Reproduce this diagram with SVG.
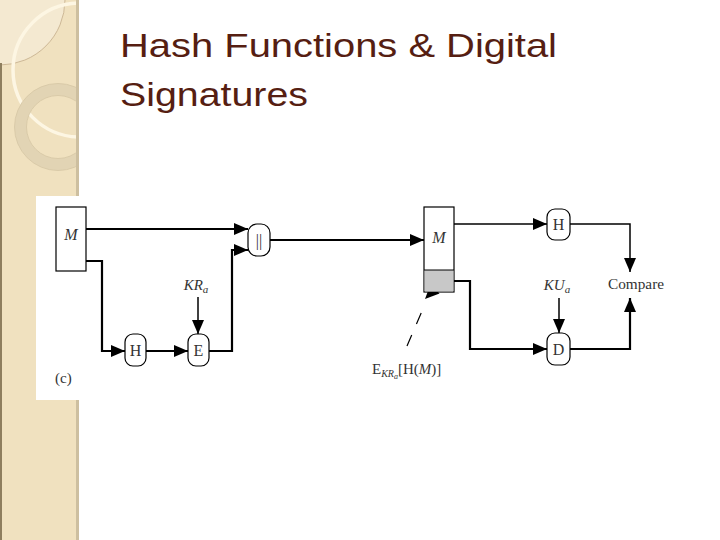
<svg xmlns="http://www.w3.org/2000/svg" width="720" height="540" viewBox="0 0 720 540">
<style>
.ln{fill:none;stroke:#000;stroke-width:2.2}
.thin{fill:none;stroke:#000;stroke-width:1.5}
.nd{fill:#fff;stroke:#000;stroke-width:1.2}
.box{fill:#fff;stroke:#000;stroke-width:1.2}
.t{font-family:"Liberation Serif","Times New Roman",serif;font-size:15px;fill:#333}
.n{font-size:16px}
.it{font-style:italic}
.title{font-family:"Liberation Sans",Arial,sans-serif;font-size:34px;fill:#561e12}
</style>
<defs>
<marker id="ah" viewBox="0 0 14 12" refX="14" refY="6" markerWidth="14" markerHeight="13" markerUnits="userSpaceOnUse" orient="auto">
<path d="M0,0 L14,6 L0,12 Z" fill="#000"/>
</marker>
<clipPath id="strip"><rect x="0" y="0" width="78" height="540"/></clipPath>
</defs>
<rect width="720" height="540" fill="#fff"/>
<g id="background">
<rect x="0" y="0" width="78" height="540" fill="#f0e1bf"/>
<g clip-path="url(#strip)">
<circle cx="0" cy="0" r="65" fill="#f4e9d1" stroke="#cdb896" stroke-width="1"/>
<circle cx="80" cy="70" r="67" fill="none" stroke="#fdf6e3" stroke-width="3.5"/>
<circle cx="58" cy="127" r="37.5" fill="none" stroke="#e2d4b4" stroke-width="12"/>
<circle cx="58" cy="127" r="43.5" fill="none" stroke="#d6c6a4" stroke-width="0.8"/>
<circle cx="58" cy="127" r="31.5" fill="none" stroke="#d6c6a4" stroke-width="0.8"/>
</g>
<rect x="0" y="63" width="2" height="477" fill="#8e7e5e"/>
<rect x="76" y="0" width="3" height="540" fill="#cdbfa0"/>
<rect x="36" y="196" width="44" height="204" fill="#fff"/>
</g>
<g id="title">
<text class="title" x="120" y="57" textLength="437" lengthAdjust="spacingAndGlyphs">Hash Functions &amp; Digital</text>
<text class="title" x="120" y="106" textLength="188" lengthAdjust="spacingAndGlyphs">Signatures</text>
</g>
<g id="connectors">
<path class="ln" d="M86,229 H248" marker-end="url(#ah)"/>
<path class="ln" d="M86,261 H102 V351 H125" marker-end="url(#ah)"/>
<path class="ln" d="M146,351 H188" marker-end="url(#ah)"/>
<path class="thin" d="M198,297 V334" marker-end="url(#ah)"/>
<path class="ln" d="M209,351 H232 V250 H248" marker-end="url(#ah)"/>
<path class="ln" d="M270,240 H424" marker-end="url(#ah)"/>
<path class="thin" d="M454,224 H547" marker-end="url(#ah)"/>
<path class="thin" d="M570,224 H630 V272" marker-end="url(#ah)"/>
<path class="ln" d="M454,281 H470 V349 H547" marker-end="url(#ah)"/>
<path class="thin" d="M559,298 V333" marker-end="url(#ah)"/>
<path class="ln" d="M570,349 H630 V298" marker-end="url(#ah)"/>
<path d="M407,346 L422,311" fill="none" stroke="#000" stroke-width="1.2" stroke-dasharray="12,12"/>
<path d="M425,299 L430.5,284.5 L439.5,293.5 Z" fill="#000"/>
</g>
<g id="M1">
<rect class="box" x="56" y="207" width="30" height="64"/>
<text class="t n it" x="71" y="240" text-anchor="middle">M</text>
</g>
<g id="H1">
<rect class="nd" x="125" y="334" width="21" height="32" rx="8"/>
<text class="t n" x="135.5" y="356" text-anchor="middle">H</text>
</g>
<g id="E">
<rect class="nd" x="188" y="334" width="21" height="32" rx="8"/>
<text class="t n" x="198.5" y="356" text-anchor="middle">E</text>
</g>
<g id="KRa">
<text class="t it" x="196" y="290" text-anchor="middle">KR<tspan font-size="11" dy="3">a</tspan></text>
</g>
<g id="concat">
<rect class="nd" x="248" y="224" width="22" height="32" rx="9"/>
<text class="t n" x="259" y="246" text-anchor="middle" fill="#888">||</text>
</g>
<g id="M2">
<rect class="box" x="424" y="207" width="30" height="85"/>
<rect x="424.6" y="270" width="28.8" height="21.4" fill="#c8c8c8"/>
<line x1="424" y1="270" x2="454" y2="270" stroke="#000" stroke-width="1"/>
<text class="t n it" x="439" y="243" text-anchor="middle">M</text>
</g>
<g id="sigLabel">
<text class="t" x="372" y="374">E<tspan class="it" font-size="10" dy="3">KR<tspan font-size="8" dy="2">a</tspan></tspan><tspan dy="-5">[H(</tspan><tspan class="it">M</tspan>)]</text>
</g>
<g id="H2">
<rect class="nd" x="547" y="209" width="23" height="31" rx="8"/>
<text class="t n" x="558.5" y="230" text-anchor="middle">H</text>
</g>
<g id="KUa">
<text class="t it" x="557" y="290" text-anchor="middle">KU<tspan font-size="11" dy="3">a</tspan></text>
</g>
<g id="D">
<rect class="nd" x="547" y="333" width="23" height="32" rx="8"/>
<text class="t n" x="558.5" y="355" text-anchor="middle">D</text>
</g>
<g id="compare">
<text class="t" x="608" y="289" textLength="56" lengthAdjust="spacingAndGlyphs">Compare</text>
</g>
<text class="t" x="55" y="383">(c)</text>
</svg>
